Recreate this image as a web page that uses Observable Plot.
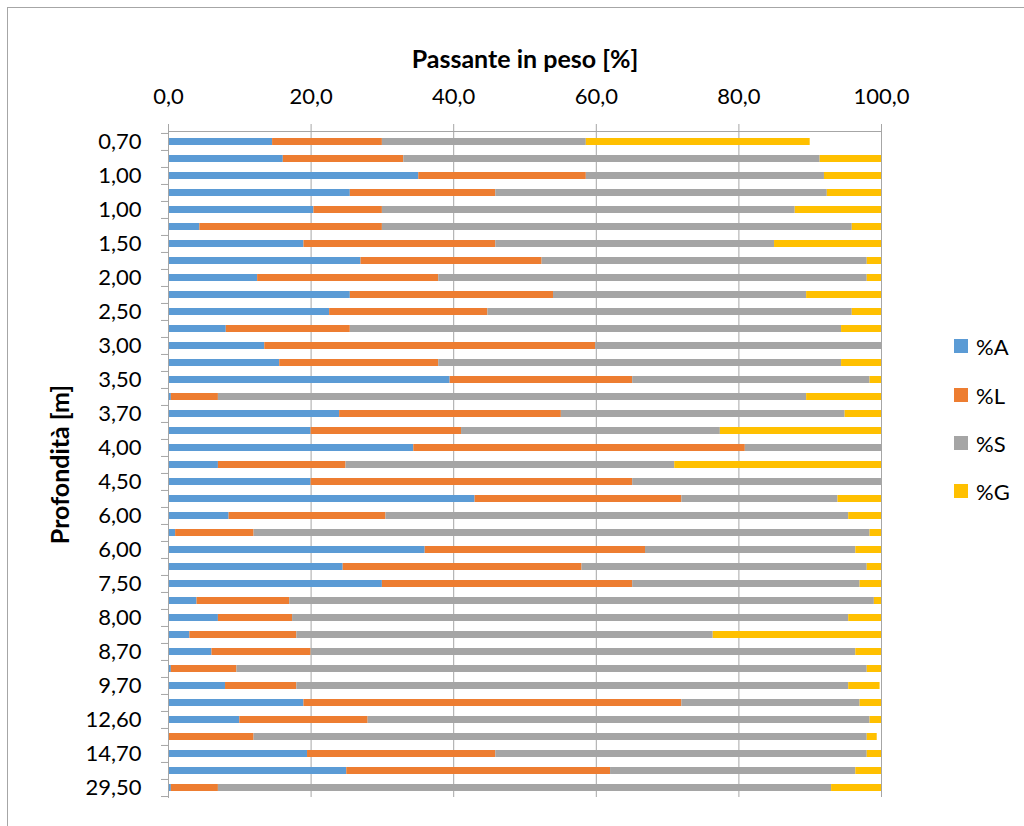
<!DOCTYPE html>
<html>
<head>
<meta charset="utf-8">
<script src="https://cdn.jsdelivr.net/npm/d3@7"></script>
<script src="https://cdn.jsdelivr.net/npm/@observablehq/plot@0.6"></script>
<style>
  html, body { margin: 0; padding: 0; background: #fff; overflow: hidden; width: 1024px; height: 826px; }
  #frame { position: absolute; left: 7px; top: 7px; width: 1100px; height: 900px; border: 1px solid #a6a6a6; }
  #chart { position: absolute; left: 0; top: 0; }
  #legend { position: absolute; left: 954px; top: 0; font-family: Lato, sans-serif; font-size: 22px; color: #000; }
  #legend .item { position: absolute; left: 0; height: 30px; display: flex; align-items: center; white-space: nowrap; }
  #legend .sw { width: 14px; height: 14px; margin-right: 8px; }
</style>
</head>
<body>
<div id="frame"></div>
<div id="chart"></div>
<div id="legend"></div>
<script>
// Depth labels shown on the axis (one every two samples)
const depthLabels = ["0,70", "1,00", "1,00", "1,50", "2,00", "2,50", "3,00", "3,50", "3,70", "4,00",
                     "4,50", "6,00", "6,00", "7,50", "8,00", "8,70", "9,70", "12,60", "14,70", "29,50"];

// Grain-size fractions per sample (%): clay, silt, sand, gravel
const seriesNames = ["%A", "%L", "%S", "%G"];
const seriesColors = ["#5B9BD5", "#ED7D31", "#A5A5A5", "#FFC000"];

const pctA = [14.6, 16.1, 35.1, 25.5, 20.4, 4.4, 19.0, 27.0, 12.5, 25.5,
              22.6, 8.1, 13.5, 15.6, 39.5, 0.4, 24.0, 20.0, 34.4, 7.0,
              20.0, 43.0, 8.5, 1.0, 36.0, 24.5, 30.0, 4.0, 7.0, 3.0,
              6.1, 0.4, 8.0, 19.0, 10.0, 0.0, 19.5, 25.0, 0.4];
const pctL = [15.4, 16.9, 23.5, 20.4, 9.6, 25.6, 26.9, 25.4, 25.4, 28.5,
              22.2, 17.4, 46.4, 22.3, 25.6, 6.6, 31.1, 21.1, 46.5, 17.9,
              45.1, 29.0, 22.0, 11.0, 30.9, 33.5, 35.1, 13.0, 10.4, 15.0,
              13.9, 9.2, 10.0, 53.0, 18.0, 12.0, 26.4, 37.0, 6.6];
const pctS = [28.6, 58.4, 33.4, 46.5, 57.9, 65.9, 39.1, 45.6, 60.1, 35.5,
              51.1, 68.9, 40.1, 56.5, 33.3, 82.5, 39.8, 36.3, 19.1, 46.1,
              34.9, 21.9, 64.9, 86.4, 29.5, 40.0, 31.9, 82.0, 78.0, 58.4,
              76.4, 88.4, 77.4, 25.0, 70.4, 86.0, 52.1, 34.4, 86.0];
const pctG = [31.4, 8.6, 8.0, 7.6, 12.1, 4.1, 15.0, 2.0, 2.0, 10.5,
              4.1, 5.6, 0.0, 5.6, 1.6, 10.5, 5.1, 22.6, 0.0, 29.0,
              0.0, 6.1, 4.6, 1.6, 3.6, 2.0, 3.0, 1.0, 4.6, 23.6,
              3.6, 2.0, 4.4, 3.0, 1.6, 1.4, 2.0, 3.6, 7.0];

const xTicks = [0, 20, 40, 60, 80, 100];

// ---- build the long table for the stacked bars ----
const fractions = [pctA, pctL, pctS, pctG];
const rows = d3.range(pctA.length);
const table = rows.flatMap(i => seriesNames.map((s, k) => ({row: i, series: s, value: fractions[k][i]})));

const W = 1024, H = 826;
const mTop = 131, mBottom = 29, mLeft = 168, mRight = 143;
const step = (H - mTop - mBottom) / rows.length;
const axisGray = "#a6a6a6";
const fmtX = d => d.toFixed(1).replace(".", ",");

const chart = Plot.plot({
  width: W,
  height: H,
  marginTop: mTop,
  marginBottom: mBottom,
  marginLeft: mLeft,
  marginRight: mRight,
  style: {fontFamily: "Lato, sans-serif", fontSize: "22px", color: "#000", background: "transparent", overflow: "visible"},
  x: {domain: [0, 100], axis: null},
  y: {type: "band", domain: rows, paddingInner: 0.59, paddingOuter: 0.295, axis: null},
  color: {domain: seriesNames, range: seriesColors},
  marks: [
    Plot.gridX(xTicks, {stroke: axisGray, strokeOpacity: 1}),
    Plot.barX(table, Plot.stackX({x: "value", y: "row", fill: "series", order: seriesNames})),
    Plot.frame({anchor: "top", stroke: axisGray}),
    Plot.frame({anchor: "left", stroke: axisGray}),
    // top value axis
    Plot.axisX(xTicks, {anchor: "top", tickSize: 8, tickPadding: 20, tickFormat: fmtX, stroke: axisGray, fill: "#000", fontSize: 22, label: null}),
    // category boundaries on the depth axis
    Plot.axisY(rows, {anchor: "left", tickSize: 7, tickFormat: () => "", dy: -step / 2, stroke: axisGray, label: null}),
    Plot.axisY([rows[rows.length - 1]], {anchor: "left", tickSize: 7, tickFormat: () => "", dy: step / 2, stroke: axisGray, label: null}),
    // depth labels, every other sample
    Plot.axisY(rows.filter(i => i % 2 === 0), {anchor: "left", tickSize: 0, tickPadding: 27, tickFormat: i => depthLabels[i / 2], fill: "#000", fontSize: 22, label: null}),
    // axis titles
    Plot.text(["Passante in peso [%]"], {frameAnchor: "top", textAnchor: "middle", dy: -81, fontWeight: "bold", fontSize: 25, fill: "#000"}),
    Plot.text(["Profondità [m]"], {frameAnchor: "left", textAnchor: "middle", dx: -108, rotate: -90, fontWeight: "bold", fontSize: 25, fill: "#000"})
  ]
});
document.getElementById("chart").appendChild(chart);

// legend on the right
const legendCenters = [346, 395, 443, 491];
const legend = document.getElementById("legend");
seriesNames.forEach((name, k) => {
  const item = document.createElement("div");
  item.className = "item";
  item.style.top = (legendCenters[k] - 15) + "px";
  const sw = document.createElement("div");
  sw.className = "sw";
  sw.style.background = seriesColors[k];
  const label = document.createElement("span");
  label.textContent = name;
  item.appendChild(sw);
  item.appendChild(label);
  legend.appendChild(item);
});
</script>
</body>
</html>
